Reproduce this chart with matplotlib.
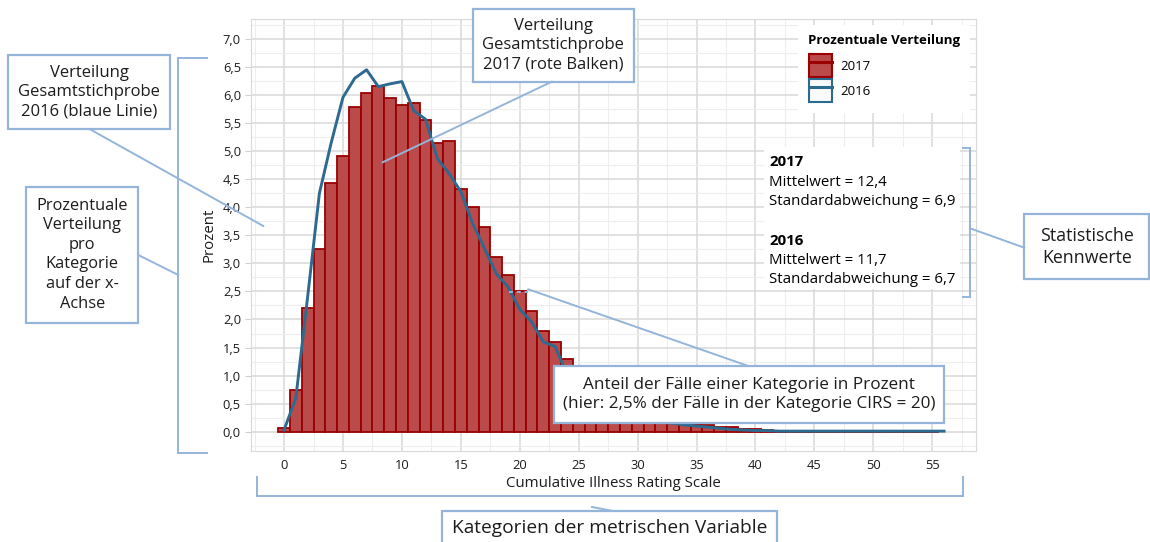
import matplotlib

matplotlib.use("Agg")

import matplotlib.pyplot as plt  # noqa: E402
from matplotlib import font_manager as fm  # noqa: E402
from matplotlib.legend_handler import HandlerTuple  # noqa: E402
from matplotlib.lines import Line2D  # noqa: E402
from matplotlib.patches import Patch, Rectangle  # noqa: E402
from matplotlib.ticker import FuncFormatter, MultipleLocator  # noqa: E402


def pick_font(candidates):
    # the labels need a real bold face, so take the first family that has one
    bold = set()
    for f in fm.fontManager.ttflist:
        w = fm.weight_dict.get(f.weight, f.weight)
        if isinstance(w, int) and w >= 600:
            bold.add(f.name)
    for name in candidates:
        if name in bold:
            return name
    return "DejaVu Sans"


FONT = pick_font(["Noto Sans", "Open Sans", "Lato", "Roboto", "Liberation Sans"])
plt.rcParams["font.family"] = [FONT, "DejaVu Sans"]

# CIRS categories and share of cases per category (in percent)
cirs_2017 = list(range(56))
pct_2017 = [
    0.07, 0.74, 2.21, 3.26, 4.43, 4.91, 5.79, 6.03, 6.17, 5.95,
    5.82, 5.86, 5.56, 5.15, 5.18, 4.33, 4.01, 3.65, 3.11, 2.79,
    2.51, 2.15, 1.79, 1.59, 1.30, 1.05, 0.86, 0.70, 0.56, 0.46,
    0.38, 0.31, 0.25, 0.20, 0.17, 0.13, 0.12, 0.09, 0.08, 0.04,
    0.04, 0.03, 0.02, 0.02, 0.02, 0.01, 0.01, 0.01, 0.01, 0.01,
    0.01, 0.01, 0.01, 0.01, 0.01, 0.01,
]
cirs_2016 = list(range(57))
pct_2016 = [
    0.03, 0.60, 2.40, 4.25, 5.15, 5.96, 6.30, 6.45, 6.15, 6.20,
    6.24, 5.72, 5.57, 4.87, 4.60, 4.28, 3.71, 3.27, 2.82, 2.58,
    2.18, 1.96, 1.60, 1.52, 1.02, 0.78, 0.60, 0.48, 0.38, 0.30,
    0.25, 0.20, 0.17, 0.15, 0.12, 0.10, 0.08, 0.06, 0.04, 0.03,
    0.02, 0.02, 0.01, 0.01, 0.01, 0.01, 0.01, 0.01, 0.01, 0.01,
    0.01, 0.01, 0.01, 0.01, 0.01, 0.01, 0.01,
]

stats_lines = [
    ("2017", True), ("Mittelwert = 12,4", False), ("Standardabweichung = 6,9", False),
    ("2016", True), ("Mittelwert = 11,7", False), ("Standardabweichung = 6,7", False),
]

BAR_FACE = "#bb4a4a"
BAR_EDGE = "#9a0000"
LINE_COLOR = "#2d6a8f"
NOTE_BLUE = "#95b4da"
TEXT = "#1c1c1c"

W, H = 1150, 542


def fx(px):
    return px / W


def fy(py):
    return 1 - py / H


def seg(fig, x0, y0, x1, y1, **kw):
    style = dict(color=NOTE_BLUE, lw=1.4)
    style.update(kw)
    fig.add_artist(Line2D([fx(x0), fx(x1)], [fy(y0), fy(y1)],
                          transform=fig.transFigure, **style))


def box(fig, x0, y0, x1, y1, text, size, cx=None, cy=None, edge=NOTE_BLUE):
    fig.add_artist(Rectangle((fx(x0), fy(y1)), (x1 - x0) / W, (y1 - y0) / H,
                             transform=fig.transFigure, facecolor="white",
                             edgecolor=edge, lw=1.6 if edge != "none" else 0))
    if text:
        cx = (x0 + x1) / 2 if cx is None else cx
        cy = (y0 + y1) / 2 if cy is None else cy
        fig.text(fx(cx), fy(cy), text, ha="center", va="center", fontsize=size,
                 color=TEXT, linespacing=1.3)


fig = plt.figure(figsize=(11.5, 5.42), dpi=100)
ax = fig.add_axes([fx(250.7), fy(451), (976 - 250.7) / W, (451 - 19.3) / H])

ax.bar(cirs_2017, pct_2017, width=1.0, color=BAR_FACE, edgecolor=BAR_EDGE,
       linewidth=1.3, zorder=2)
ax.plot(cirs_2016, pct_2016, color=LINE_COLOR, lw=2.1, zorder=3)

ax.set_xlim(-2.83, 58.71)
ax.set_ylim(-0.344, 7.35)
ax.xaxis.set_major_locator(MultipleLocator(5))
ax.xaxis.set_minor_locator(MultipleLocator(2.5))
ax.yaxis.set_major_locator(MultipleLocator(0.5))
ax.yaxis.set_minor_locator(MultipleLocator(0.25))
ax.yaxis.set_major_formatter(FuncFormatter(lambda v, _: f"{v:.1f}".replace(".", ",")))

ax.set_axisbelow(True)
ax.grid(which="major", color="#d9d9d9", lw=1.1)
ax.grid(which="minor", color="#eeeeee", lw=0.8)
for sp in ax.spines.values():
    sp.set_color("#d9d9d9")
ax.tick_params(axis="x", which="major", length=0, pad=6, labelsize=9.3, labelcolor=TEXT)
ax.tick_params(axis="y", which="major", length=4, color="#d0d0d0", pad=3,
               labelsize=9.3, labelcolor=TEXT)
ax.tick_params(which="minor", length=0)

ax.set_xlabel("Cumulative Illness Rating Scale", fontsize=10.8, color=TEXT)
ax.set_ylabel("Prozent", fontsize=10.8, color=TEXT)
ax.xaxis.set_label_coords(0.5, -0.058)
ax.yaxis.set_label_coords(-0.047, 0.5)

# legend: white panel, bold title, then the two entries
ax.add_patch(Rectangle((fx(798), fy(113)), (970 - 798) / W, (113 - 25) / H,
                       transform=fig.transFigure, facecolor="white",
                       edgecolor="none", zorder=4, clip_on=False))
ax.text(fx(808), fy(40.7), "Prozentuale Verteilung", transform=fig.transFigure,
        ha="left", va="center", fontsize=9.5, weight="bold", color="black", zorder=6)
h17 = (Patch(facecolor=BAR_FACE, edgecolor=BAR_EDGE, lw=1.5),
       Line2D([], [], color=BAR_EDGE, lw=2.2))
h16 = (Patch(facecolor="#fafafa", edgecolor=LINE_COLOR, lw=1.5),
       Line2D([], [], color=LINE_COLOR, lw=2.2))
ax.legend([h17, h16], ["2017", "2016"],
          handler_map={tuple: HandlerTuple(ndivide=1)},
          loc="upper left", bbox_to_anchor=(fx(809), fy(54)),
          bbox_transform=fig.transFigure, frameon=False, fontsize=9.5,
          handlelength=1.75, handleheight=2.3, handletextpad=0.6,
          labelspacing=0.15, borderpad=0, borderaxespad=0)

# statistics block
box(fig, 764, 147, 960, 289, None, 0, edge="none")
for (txt, bold), ypos in zip(stats_lines, [161.7, 182.7, 201.7, 240.7, 260.7, 279.3]):
    fig.text(fx(769), fy(ypos), txt, ha="left", va="center", fontsize=10.8,
             color="black", weight="bold" if bold else "normal")

# --- explanatory notes around the chart ---
box(fig, 8.3, 55, 170, 129.3, "Verteilung\nGesamtstichprobe\n2016 (blaue Linie)", 12)
seg(fig, 90, 129.3, 263.3, 226)

box(fig, 26, 186.7, 138.3, 322.7,
    "Prozentuale\nVerteilung\npro\nKategorie\nauf der x-\nAchse", 11.8)
seg(fig, 138.3, 255, 178.3, 275)
seg(fig, 178.3, 58.3, 178.3, 452.7)
seg(fig, 178.3, 58.3, 207, 58.3)
seg(fig, 178.3, 452.7, 207, 452.7)

box(fig, 472.7, 9, 634, 81.7, "Verteilung\nGesamtstichprobe\n2017 (rote Balken)", 12)
seg(fig, 551.7, 81.7, 382.7, 162.3)

box(fig, 1024.3, 214.3, 1149, 279.3, "Statistische\nKennwerte", 12.8)
seg(fig, 970, 228.3, 1024.3, 247.7)
seg(fig, 970, 147.7, 970, 296.7)
seg(fig, 962.7, 147.7, 970, 147.7)
seg(fig, 962.7, 296.7, 970, 296.7)

seg(fig, 509, 291.5, 528, 291.5, ls=(0, (2, 2)))
seg(fig, 528.3, 289.3, 748.3, 366)
box(fig, 554.3, 366, 944, 422.7,
    "Anteil der Fälle einer Kategorie in Prozent\n"
    "(hier: 2,5% der Fälle in der Kategorie CIRS = 20)", 12.3)

seg(fig, 256.7, 496, 963, 496)
seg(fig, 256.7, 477, 256.7, 496)
seg(fig, 963, 477, 963, 496)
seg(fig, 592, 507, 613, 511)
box(fig, 441.7, 511, 777.3, 548, "Kategorien der metrischen Variable", 13.8, cy=528)

fig.savefig("out.png", dpi=100)
